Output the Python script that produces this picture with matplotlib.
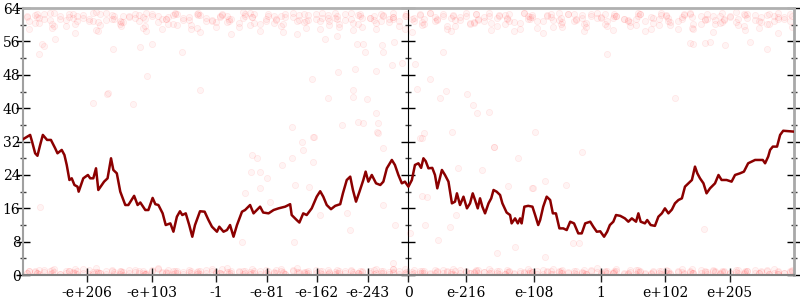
import matplotlib
matplotlib.use("Agg")
import matplotlib.pyplot as plt
from matplotlib.ticker import MultipleLocator

plt.rcParams['font.family'] = ['DejaVu Serif']
plt.rcParams['font.size'] = 10

# x = position in the ordered list of bit patterns, scaled to [-1, 1]
tick_pos = [-0.835, -0.666, -0.499, -0.368, -0.238, -0.106, 0.0,
            0.150, 0.325, 0.499, 0.666, 0.834]
tick_lbl = ['-e+206', '-e+103', '-1', '-e-81', '-e-162', '-e-243', '0',
            'e-216', 'e-108', '1', 'e+102', 'e+205']

# running average (dark red line)
walk_x = [-1.0, -0.982, -0.977, -0.969, -0.963, -0.956, -0.949, -0.938, -0.928, -0.917,
          -0.911, -0.900, -0.893, -0.887, -0.880, -0.874, -0.867, -0.859, -0.856, -0.844,
          -0.832, -0.826, -0.818, -0.811, -0.805, -0.796, -0.790, -0.781, -0.772, -0.766,
          -0.757, -0.748, -0.735, -0.727, -0.712, -0.703, -0.696, -0.683, -0.675, -0.664,
          -0.657, -0.649, -0.638, -0.630, -0.618, -0.610, -0.601, -0.593, -0.587, -0.578,
          -0.569, -0.561, -0.554, -0.541, -0.529, -0.519, -0.510, -0.497, -0.491, -0.480,
          -0.471, -0.463, -0.454, -0.445, -0.432, -0.424, -0.411, -0.402, -0.385, -0.377,
          -0.363, -0.350, -0.337, -0.320, -0.307, -0.303, -0.290, -0.283, -0.273, -0.264,
          -0.251, -0.238, -0.229, -0.221, -0.212, -0.201, -0.190, -0.177, -0.170, -0.160,
          -0.151, -0.144, -0.136, -0.127, -0.117, -0.111, -0.104, -0.095, -0.084, -0.073,
          -0.065, -0.056, -0.043, -0.035, -0.026, -0.017, -0.009, 0.000, 0.009, 0.017,
          0.026, 0.033, 0.039, 0.045, 0.052, 0.062, 0.069, 0.075, 0.087, 0.095,
          0.104, 0.113, 0.121, 0.126, 0.134, 0.143, 0.152, 0.160, 0.167, 0.173,
          0.180, 0.186, 0.192, 0.199, 0.208, 0.215, 0.221, 0.229, 0.238, 0.244,
          0.255, 0.264, 0.268, 0.277, 0.284, 0.290, 0.294, 0.301, 0.311, 0.322,
          0.329, 0.337, 0.342, 0.350, 0.359, 0.368, 0.375, 0.383, 0.392, 0.402,
          0.411, 0.420, 0.430, 0.441, 0.450, 0.459, 0.472, 0.480, 0.489, 0.498,
          0.508, 0.516, 0.523, 0.532, 0.539, 0.550, 0.562, 0.571, 0.580, 0.591,
          0.597, 0.603, 0.614, 0.620, 0.629, 0.640, 0.649, 0.658, 0.666, 0.675,
          0.684, 0.692, 0.701, 0.710, 0.718, 0.727, 0.736, 0.744, 0.750, 0.757,
          0.766, 0.774, 0.783, 0.796, 0.805, 0.813, 0.826, 0.839, 0.848, 0.861,
          0.871, 0.882, 0.891, 0.900, 0.908, 0.920, 0.926, 0.934, 0.939, 0.946,
          0.957, 0.965, 0.973, 1.0]
walk_y = [32.6, 33.6, 32.0, 29.2, 28.6, 31.2, 33.6, 32.4, 32.4, 30.4,
          29.2, 30.0, 28.8, 26.4, 22.8, 23.2, 21.6, 21.2, 20.0, 23.2,
          24.0, 23.2, 23.2, 25.6, 20.4, 21.6, 22.4, 23.2, 28.0, 25.2,
          24.4, 20.0, 16.8, 16.8, 19.0, 16.8, 17.4, 15.6, 15.6, 18.5,
          17.0, 16.8, 14.8, 12.0, 12.4, 10.4, 14.0, 15.3, 14.4, 14.8,
          12.0, 9.2, 12.0, 15.3, 15.2, 13.2, 11.6, 10.4, 11.6, 10.4,
          10.8, 12.0, 9.2, 12.0, 15.2, 15.6, 16.8, 14.8, 16.4, 15.0,
          14.8, 15.6, 16.0, 16.4, 17.0, 14.4, 13.2, 12.6, 14.8, 14.4,
          16.0, 18.8, 20.1, 18.8, 16.8, 15.8, 16.6, 17.0, 19.6, 22.8,
          23.6, 20.4, 17.6, 20.0, 22.8, 24.8, 22.4, 24.0, 22.0, 21.6,
          22.4, 25.6, 27.6, 26.4, 24.0, 22.0, 22.4, 21.2, 22.8, 26.4,
          26.8, 25.7, 28.0, 27.3, 25.6, 25.7, 24.0, 20.8, 25.2, 24.0,
          22.4, 17.2, 17.6, 19.6, 16.8, 18.8, 16.0, 17.2, 19.6, 18.0,
          16.0, 18.4, 16.4, 14.8, 17.2, 18.4, 20.4, 20.0, 19.2, 17.2,
          15.0, 14.4, 12.4, 13.6, 12.4, 13.6, 12.4, 16.4, 16.6, 16.4,
          14.4, 12.0, 13.2, 16.4, 18.8, 18.0, 14.8, 14.8, 11.2, 11.2,
          10.8, 12.8, 12.4, 10.0, 10.0, 12.4, 12.8, 11.6, 10.4, 10.5,
          9.2, 10.4, 12.0, 12.8, 14.4, 14.2, 13.6, 12.8, 13.6, 12.8,
          14.8, 12.8, 12.4, 13.2, 12.0, 11.8, 14.0, 14.8, 16.0, 14.8,
          15.7, 17.2, 18.0, 18.4, 21.2, 22.0, 22.8, 26.0, 24.4, 23.2,
          22.0, 19.6, 20.8, 22.0, 24.0, 22.8, 22.8, 22.4, 24.0, 24.4,
          24.8, 26.8, 27.2, 27.6, 27.6, 27.6, 26.8, 28.4, 30.0, 30.8,
          30.8, 33.6, 34.6, 34.4]

# faint samples: two bands (near 0 and near 62) plus a few stray ones
band_xa = [-0.99, -0.97, -0.96, -0.93, -0.92, -0.89, -0.87, -0.86, -0.83, -0.81,
           -0.80, -0.77, -0.75, -0.74, -0.71, -0.69, -0.68, -0.65, -0.63, -0.61,
           -0.60, -0.57, -0.55, -0.54, -0.51, -0.49, -0.47, -0.46, -0.43, -0.41,
           -0.40, -0.37, -0.35, -0.33, -0.32, -0.29, -0.27, -0.26, -0.23, -0.21,
           -0.19, -0.18, -0.15, -0.13, -0.12, -0.09, -0.07, -0.05, -0.04, -0.01,
           0.01, 0.03, 0.04, 0.07, 0.09, 0.11, 0.12, 0.15, 0.17, 0.18,
           0.21, 0.23, 0.25, 0.26, 0.29, 0.31, 0.32, 0.35, 0.37, 0.39,
           0.40, 0.43, 0.45, 0.46, 0.49, 0.51, 0.53, 0.54, 0.57, 0.59,
           0.60, 0.63, 0.65, 0.67, 0.68, 0.71, 0.73, 0.74, 0.77, 0.79,
           0.81, 0.82, 0.85, 0.87, 0.88, 0.91, 0.93, 0.95, 0.96, 0.99]
band_xb = [-0.985, -0.965, -0.945, -0.925, -0.905, -0.88, -0.865, -0.845, -0.82, -0.805,
           -0.785, -0.765, -0.745, -0.725, -0.70, -0.685, -0.665, -0.64, -0.625, -0.605,
           -0.585, -0.565, -0.545, -0.525, -0.50, -0.485, -0.465, -0.44, -0.425, -0.405,
           -0.385, -0.365, -0.345, -0.325, -0.30, -0.285, -0.265, -0.24, -0.225, -0.205,
           -0.185, -0.165, -0.145, -0.125, -0.10, -0.085, -0.065, -0.04, -0.025, -0.005,
           0.015, 0.035, 0.055, 0.075, 0.10, 0.115, 0.135, 0.16, 0.175, 0.195,
           0.215, 0.235, 0.255, 0.275, 0.30, 0.315, 0.335, 0.36, 0.375, 0.395,
           0.415, 0.435, 0.455, 0.475, 0.50, 0.515, 0.535, 0.56, 0.575, 0.595,
           0.615, 0.635, 0.655, 0.675, 0.70, 0.715, 0.735, 0.76, 0.775, 0.795,
           0.815, 0.835, 0.855, 0.875, 0.90, 0.915, 0.935, 0.96, 0.975, 0.995]
top_ya = [61.8, 62.4, 60.5, 61.1, 62.9, 59.7, 61.6, 62.2, 60.9, 58.8,
          62.6, 61.3, 60.2, 62.0, 61.7, 59.2, 62.8, 60.7, 61.5, 62.3,
          60.0, 61.9, 62.7, 58.3, 61.2, 62.1, 60.6, 61.4, 63.0, 59.9,
          62.5, 61.0, 60.4, 62.2, 61.8, 57.9, 62.6, 61.1, 60.8, 62.4,
          61.6, 59.5, 62.9, 60.3, 61.7, 62.0, 60.9, 61.3, 62.8, 59.0,
          61.5, 62.3, 60.1, 61.9, 62.6, 58.6, 61.2, 62.1, 60.7, 61.4,
          62.9, 59.8, 62.4, 61.0, 60.5, 62.2, 61.8, 58.1, 62.7, 61.2,
          60.6, 62.5, 61.6, 59.4, 62.8, 60.2, 61.7, 62.0, 60.8, 61.3,
          62.6, 59.1, 61.5, 62.3, 60.0, 61.9, 62.7, 58.9, 61.1, 62.1,
          60.4, 61.4, 63.1, 59.6, 62.5, 61.0, 60.3, 62.2, 61.8, 60.9]
top_yb = [60.8, 61.9, 62.7, 59.3, 61.4, 62.5, 60.2, 61.7, 62.9, 58.5,
          61.1, 62.2, 60.6, 61.8, 62.4, 59.8, 62.0, 61.3, 60.1, 62.8,
          61.6, 58.9, 62.3, 61.0, 60.7, 62.6, 61.5, 59.4, 62.1, 61.9,
          60.3, 62.7, 61.2, 58.2, 61.8, 62.4, 60.9, 61.4, 62.9, 59.9,
          62.2, 61.1, 60.5, 62.6, 61.7, 59.1, 62.0, 61.3, 60.8, 62.5,
          61.6, 60.0, 62.8, 61.2, 59.6, 62.3, 61.9, 60.4, 62.7, 61.0,
          58.7, 62.1, 61.5, 60.6, 62.9, 61.8, 59.2, 62.4, 61.1, 60.2,
          62.6, 61.4, 58.4, 62.0, 61.7, 60.9, 62.5, 61.3, 59.7, 62.2,
          61.0, 60.5, 62.8, 61.6, 59.0, 62.3, 61.9, 60.1, 62.7, 61.2,
          60.7, 62.1, 61.5, 58.8, 62.4, 61.8, 60.3, 62.9, 61.4, 59.5]
top_yc = [62.1, 60.4, 61.7, 62.8, 59.6, 61.2, 62.5, 60.9, 61.5, 63.0,
          59.9, 62.3, 61.0, 60.6, 62.7, 61.8, 58.6, 62.0, 61.4, 60.2,
          62.6, 61.1, 59.3, 62.4, 60.8, 61.9, 62.2, 57.8, 61.6, 62.9,
          60.5, 61.3, 62.1, 59.7, 62.6, 61.0, 60.7, 62.3, 58.9, 61.7,
          62.8, 60.1, 61.5, 62.4, 59.4, 61.2, 62.7, 60.6, 61.9, 62.0,
          58.3, 62.5, 61.3, 60.9, 62.2, 61.6, 59.8, 62.9, 60.4, 61.1,
          62.0, 61.7, 60.2, 62.6, 59.1, 61.4, 62.3, 60.8, 61.8, 62.8,
          59.5, 61.0, 62.4, 60.5, 61.6, 62.7, 58.7, 62.1, 61.2, 60.0,
          62.5, 61.9, 59.9, 62.2, 60.7, 61.3, 62.9, 60.3, 61.5, 58.2,
          62.0, 61.1, 60.6, 62.6, 61.7, 59.3, 62.3, 60.9, 61.4, 62.7]
top_yd = [59.1, 62.6, 61.4, 60.3, 62.0, 61.8, 58.0, 62.4, 61.0, 60.7,
          62.9, 61.5, 59.6, 62.2, 60.9, 61.3, 62.7, 59.0, 61.9, 62.5,
          61.2, 60.0, 62.8, 61.6, 59.5, 62.3, 61.0, 60.5, 62.6, 61.8,
          58.5, 62.1, 61.4, 60.2, 62.9, 61.1, 59.2, 62.5, 61.7, 60.8,
          61.3, 62.7, 58.8, 62.0, 61.6, 60.4, 62.4, 61.9, 59.7, 62.2,
          61.0, 60.6, 62.8, 61.5, 59.0, 62.1, 61.2, 60.1, 62.6, 61.8,
          60.5, 62.3, 61.6, 58.4, 62.9, 61.3, 60.9, 62.0, 59.4, 61.7,
          62.5, 61.1, 60.3, 62.7, 61.9, 59.8, 62.2, 61.4, 60.6, 62.8,
          58.6, 61.6, 62.4, 60.8, 61.0, 62.6, 59.3, 62.1, 61.5, 60.2,
          62.9, 61.8, 59.9, 62.3, 61.2, 60.7, 62.5, 58.1, 61.9, 62.0]
low_ya = [0.6, 1.1, 0.3, 0.9, 1.5, 0.4, 0.8, 0.2, 1.2, 0.7,
          0.5, 1.3, 0.9, 0.1, 0.7, 1.0, 0.4, 1.6, 0.6, 0.3,
          1.1, 0.8, 0.2, 0.9, 1.4, 0.5, 0.7, 1.0, 0.3, 0.8,
          0.6, 1.2, 0.4, 0.9, 0.2, 1.7, 0.7, 0.5, 1.1, 0.3,
          0.8, 0.4, 1.3, 0.6, 0.9, 0.2, 1.0, 0.7, 0.5, 1.5,
          0.3, 0.9, 0.6, 1.2, 0.4, 0.8, 0.1, 1.1, 0.7, 0.5,
          1.4, 0.6, 0.3, 0.9, 1.0, 0.5, 0.8, 1.3, 0.2, 0.7,
          0.4, 1.1, 0.6, 0.3, 1.6, 0.8, 0.5, 0.9, 0.2, 1.2,
          0.7, 0.4, 1.0, 0.6, 0.3, 1.4, 0.8, 0.5, 1.1, 0.9,
          0.2, 0.7, 1.3, 0.5, 0.9, 0.4, 1.2, 0.6, 0.3, 1.0]
low_yb = [0.9, 0.4, 1.2, 0.6, 0.2, 1.0, 0.5, 1.4, 0.3, 0.8,
          1.1, 0.2, 0.7, 1.3, 0.5, 0.3, 0.9, 0.6, 1.2, 0.4,
          0.3, 1.0, 0.6, 0.4, 0.8, 1.5, 0.2, 0.7, 1.1, 0.5,
          0.9, 0.3, 1.3, 0.6, 1.0, 0.4, 0.8, 1.2, 0.2, 0.7,
          0.5, 1.1, 0.3, 0.9, 0.6, 1.4, 0.4, 0.8, 1.0, 0.2,
          1.2, 0.6, 0.4, 0.7, 1.0, 0.3, 1.3, 0.5, 0.9, 0.8,
          0.4, 1.0, 0.7, 0.2, 0.6, 1.1, 0.3, 0.9, 1.5, 0.5,
          0.8, 0.3, 1.2, 0.9, 0.4, 0.6, 1.0, 0.2, 0.7, 1.3,
          0.5, 0.9, 0.2, 1.1, 0.7, 0.4, 0.6, 1.2, 0.3, 0.8,
          1.0, 0.6, 0.4, 0.8, 1.3, 0.7, 0.3, 0.9, 0.5, 1.1]
low_yc = [0.4, 0.8, 1.3, 0.2, 0.7, 1.1, 0.5, 0.9, 0.3, 1.6,
          0.6, 1.0, 0.3, 0.8, 1.2, 0.5, 0.2, 1.4, 0.7, 0.9,
          0.5, 1.2, 0.8, 0.3, 1.0, 0.6, 1.7, 0.4, 0.9, 0.2,
          1.1, 0.5, 0.7, 1.4, 0.3, 0.8, 0.6, 1.0, 0.4, 1.2,
          0.2, 0.9, 1.1, 0.4, 0.7, 1.3, 0.5, 0.3, 1.5, 0.6,
          0.8, 0.4, 1.0, 0.6, 1.2, 0.2, 0.9, 0.7, 0.4, 1.3,
          0.6, 1.1, 0.3, 0.8, 0.5, 1.4, 0.7, 0.2, 1.0, 0.9,
          1.2, 0.5, 0.8, 0.3, 0.7, 1.1, 0.4, 1.5, 0.6, 0.2,
          0.9, 0.3, 0.6, 1.3, 0.5, 0.8, 1.0, 0.4, 0.7, 1.2,
          0.4, 1.0, 0.7, 0.2, 1.1, 0.6, 0.9, 1.4, 0.3, 0.8]
low_yd = [1.0, 0.5, 0.7, 1.2, 0.3, 0.9, 1.5, 0.6, 0.8, 0.4,
          0.2, 0.7, 1.1, 0.5, 0.9, 0.3, 1.3, 0.8, 0.4, 1.0,
          0.7, 0.4, 0.9, 1.2, 0.6, 0.2, 0.8, 1.1, 0.5, 1.4,
          0.3, 0.9, 0.5, 0.8, 1.3, 0.7, 0.2, 0.6, 1.0, 0.4,
          1.2, 0.6, 0.8, 0.3, 1.0, 0.5, 0.9, 1.4, 0.2, 0.7,
          0.5, 1.1, 0.3, 0.9, 0.7, 1.5, 0.4, 0.6, 1.2, 0.8,
          0.9, 0.2, 1.3, 0.5, 0.8, 0.4, 1.0, 0.7, 0.3, 1.1,
          0.6, 1.0, 0.4, 1.2, 0.3, 0.9, 0.7, 0.5, 1.3, 0.8,
          0.3, 0.7, 1.1, 0.5, 0.9, 0.2, 1.4, 0.6, 0.8, 1.0,
          0.7, 0.4, 1.2, 0.9, 0.5, 1.1, 0.3, 0.8, 0.6, 1.3]
stray_x = [-0.951, -0.947, -0.766, -0.696, -0.666, -0.588, -0.679, -0.783, -0.779, -0.819,
           -0.714, -0.541, -0.960, -0.917, -0.216, -0.186, -0.134, -0.117, -0.069, -0.037,
           -0.065, -0.112, -0.138, -0.182, -0.251, -0.084, -0.043, -0.017, 0.017, 0.091,
           0.055, 0.022, 0.098, 0.082, 0.152, 0.167, 0.178, 0.210, 0.113, 0.041,
           0.030, -0.078, -0.080, -0.117, -0.130, -0.173, -0.245, -0.143, -0.108, -0.208,
           -0.143, -0.084, -0.277, 0.221, -0.065, 0.515, 0.731, 0.740, 0.770, 0.783,
           0.822, 0.930, 0.692, 0.887, -0.406, -0.393, -0.385, -0.408, -0.367, -0.385,
           -0.424, -0.359, -0.432, -0.303, -0.247, -0.273, -0.303, -0.329, -0.247, -0.294,
           -0.257, -0.160, -0.151, -0.229, -0.298, -0.035, -0.065, -0.082, 0.035, 0.223,
           0.285, 0.190, 0.130, 0.258, 0.036, 0.048, 0.123, 0.108, 0.042, 0.004,
           0.078, 0.324, 0.329, 0.450, 0.355, 0.409, 0.320, 0.428, 0.444, 0.767,
           -0.956, -0.039, 0.355, 0.229, 0.277]
stray_y = [55.5, 54.9, 54.1, 54.7, 55.3, 53.5, 47.7, 43.4, 43.7, 41.2,
           41.0, 44.3, 53.0, 56.5, 56.7, 57.3, 55.5, 55.5, 55.1, 55.9,
           53.5, 53.5, 49.5, 48.7, 46.9, 48.9, 50.3, 50.9, 50.7, 53.5,
           47.1, 44.7, 44.2, 42.4, 43.4, 40.7, 38.8, 39.1, 34.3, 34.0,
           32.8, 34.1, 36.5, 36.4, 36.7, 36.0, 33.2, 42.6, 42.1, 42.4,
           44.3, 38.8, 32.0, 30.8, 30.4, 53.1, 55.7, 55.3, 55.7, 55.9,
           55.1, 54.3, 42.5, 55.9, 28.8, 28.0, 24.8, 24.8, 23.2, 20.8,
           19.6, 17.6, 8.0, 35.5, 33.2, 30.0, 28.1, 26.5, 27.2, 21.6,
           21.2, 14.8, 10.8, 14.4, 8.0, 12.0, 16.8, 34.2, 32.8, 30.8,
           28.1, 25.2, 25.6, 21.4, 19.0, 18.8, 14.4, 11.6, 12.0, 10.0,
           8.4, 20.8, 34.3, 29.6, 22.5, 21.7, 20.8, 7.6, 7.6, 11.0,
           16.3, 2.8, 4.4, 5.2, 6.8]

fig = plt.figure(figsize=(8, 3), dpi=100)
ax = fig.add_axes([0.029, 0.083, 0.963, 0.890])

dot = dict(s=20, facecolors=(1, 0, 0, 0.045), edgecolors=(1, 0, 0, 0.07),
           linewidths=0.6, zorder=1)
for xs, ys in [(band_xa, top_ya), (band_xb, top_yb), (band_xa, top_yc), (band_xb, top_yd),
               (band_xa, low_ya), (band_xb, low_yb), (band_xa, low_yc), (band_xb, low_yd),
               (stray_x, stray_y)]:
    ax.scatter(xs, ys, **dot)

ax.plot(walk_x, walk_y, color='#8b0000', lw=1.8, zorder=3)

ax.set_xlim(-1, 1)
ax.set_ylim(0, 64)
ax.set_xticks(tick_pos, tick_lbl)
ax.yaxis.set_major_locator(MultipleLocator(8))
ax.yaxis.set_minor_locator(MultipleLocator(4))

ax.spines['left'].set_color('#a0a0a0')
ax.spines['left'].set_linewidth(1.5)
ax.spines['right'].set_color('#a8a8a8')
ax.spines['right'].set_linewidth(2)
ax.spines['top'].set_color('#b0b0b0')
ax.spines['top'].set_linewidth(2)
ax.spines['bottom'].set_color('#808080')
ax.spines['bottom'].set_linewidth(1.5)

ax.tick_params(axis='y', which='major', direction='inout', length=10, width=1,
               color='black', right=True, pad=-3)
ax.tick_params(axis='y', which='minor', direction='inout', length=5, width=1,
               color='#404040', right=True)
ax.tick_params(axis='x', direction='inout', length=10, width=1, color='#202020', pad=3)

# the zero axis in the middle
mid = ax.secondary_yaxis(0.5)
mid.yaxis.set_major_locator(MultipleLocator(8))
mid.yaxis.set_minor_locator(MultipleLocator(4))
mid.spines['left'].set_color('#606060')
mid.spines['left'].set_linewidth(1.2)
mid.tick_params(which='both', labelleft=False, labelright=False)
mid.tick_params(which='major', direction='inout', length=10, width=1)
mid.tick_params(which='minor', direction='inout', length=5, width=1, color='#404040')

fig.savefig('out.png', dpi=100)
